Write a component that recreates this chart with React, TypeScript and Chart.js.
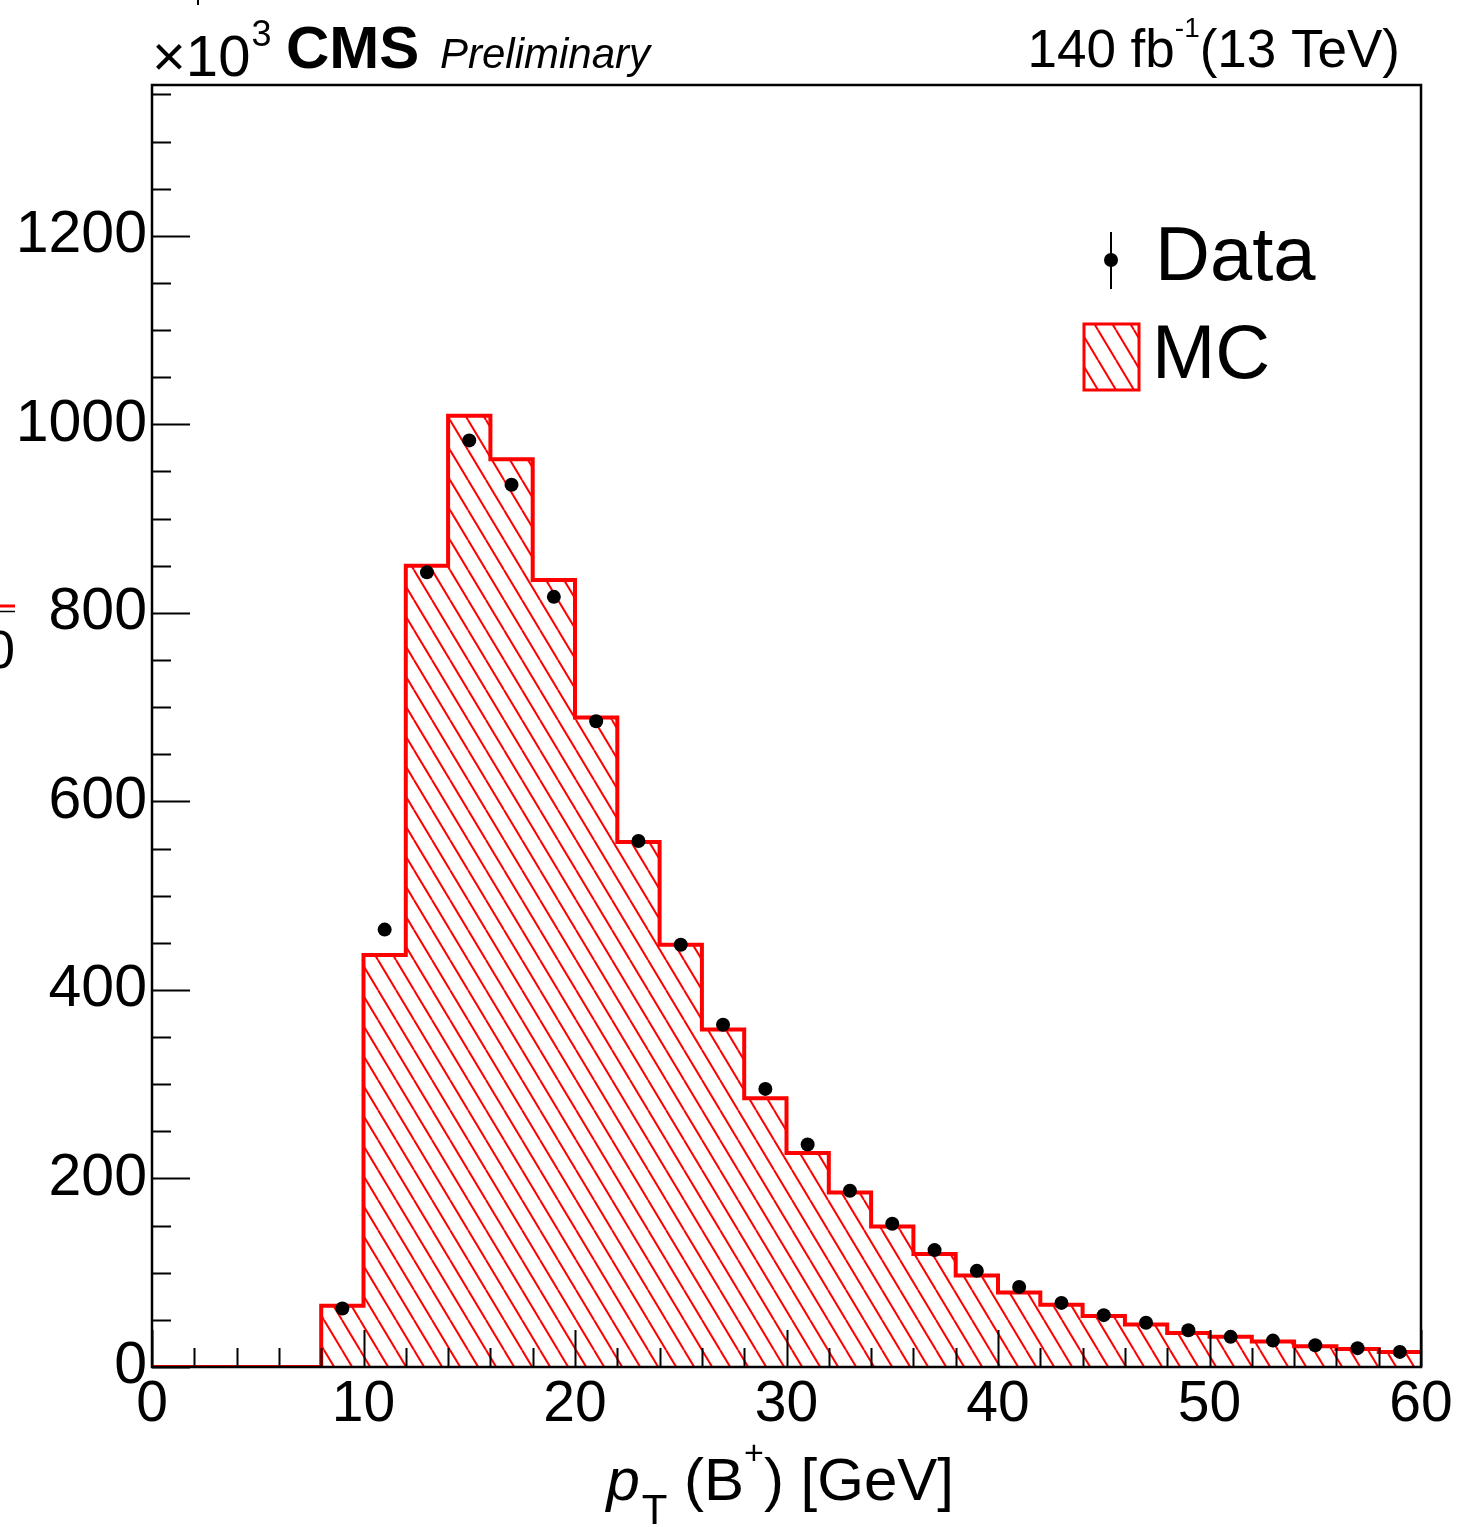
import React, { useEffect, useRef } from "react";
import { Chart, registerables } from "chart.js";

Chart.register(...registerables);

// ---- data (counts in units of 10^3) ----
const binEdges = [0, 2, 4, 6, 8, 10, 12, 14, 16, 18, 20, 22, 24, 26, 28, 30, 32, 34, 36, 38, 40, 42, 44, 46, 48, 50, 52, 54, 56, 58, 60];
const mcCounts = [0, 0, 0, 0, 65, 437, 850, 1009, 963, 835, 689, 557, 448, 358, 285, 227, 185, 149, 120, 97, 79, 66, 54, 45, 36, 32, 27, 22, 19, 16];
const dataCounts: (number | null)[] = [null, null, null, null, 62, 464, 843, 983, 936, 817, 685, 558, 448, 363, 295, 236, 187, 152, 124, 102, 85, 68, 55, 47, 39, 32, 28, 23, 20, 16];
const xTicks = [0, 10, 20, 30, 40, 50, 60];
const yTicks = [0, 200, 400, 600, 800, 1000, 1200];
const xMinorStep = 2;
const yMinorStep = 50;
const xRange = [0, 60];
const yRange = [0, 1360];

const FONT = '"Liberation Sans", Arial, Helvetica, sans-serif';
const RED = "#ff0000";

function makeHatch(): CanvasPattern | string {
  const w = 18;
  const h = 30;
  const c = document.createElement("canvas");
  c.width = w;
  c.height = h;
  const g = c.getContext("2d");
  if (!g) return "rgba(0,0,0,0)";
  g.strokeStyle = RED;
  g.lineWidth = 2;
  g.lineCap = "butt";
  for (const off of [-w, 0, w]) {
    g.beginPath();
    g.moveTo(off, 0);
    g.lineTo(off + w, h);
    g.stroke();
  }
  const p = g.createPattern(c, "repeat");
  return p || RED;
}

export default function App() {
  const ref = useRef<HTMLCanvasElement | null>(null);

  useEffect(() => {
    const canvas = ref.current;
    if (!canvas) return;
    const hatch = makeHatch();

    const histPoints = binEdges.map((e, i) => ({
      x: e,
      y: i < mcCounts.length ? mcCounts[i] : mcCounts[mcCounts.length - 1],
    }));
    const dataPoints = dataCounts
      .map((v, i) => (v === null ? null : { x: (binEdges[i] + binEdges[i + 1]) / 2, y: v }))
      .filter((p) => p !== null) as { x: number; y: number }[];

    const decorPlugin = {
      id: "decor",
      afterDatasetsDraw(chart: any) {
        const ctx: CanvasRenderingContext2D = chart.ctx;
        const xs = chart.scales.x;
        const ys = chart.scales.y;
        const a = chart.chartArea;
        ctx.save();
        ctx.strokeStyle = "#000";
        ctx.lineWidth = 2;
        // x ticks (inside)
        for (let v = xRange[0]; v <= xRange[1] + 1e-9; v += xMinorStep) {
          const px = Math.round(xs.getPixelForValue(v)) + 0.5;
          const major = xTicks.includes(v);
          const len = major ? 37 : 19;
          ctx.beginPath();
          ctx.moveTo(px, a.bottom);
          ctx.lineTo(px, a.bottom - len);
          ctx.stroke();
        }
        // y ticks (inside)
        for (let v = yRange[0]; v <= yRange[1] + 1e-9; v += yMinorStep) {
          const py = Math.round(ys.getPixelForValue(v)) + 0.5;
          const major = yTicks.includes(v);
          const len = major ? 38 : 19;
          ctx.beginPath();
          ctx.moveTo(a.left, py);
          ctx.lineTo(a.left + len, py);
          ctx.stroke();
        }
        // frame
        ctx.lineWidth = 2.5;
        ctx.strokeRect(a.left, a.top, a.right - a.left, a.bottom - a.top);
        ctx.restore();
      },
      afterDraw(chart: any) {
        const ctx: CanvasRenderingContext2D = chart.ctx;
        ctx.save();
        ctx.fillStyle = "#000";
        ctx.textBaseline = "alphabetic";
        ctx.textAlign = "left";

        // ×10^3
        ctx.font = `58px ${FONT}`;
        ctx.fillText("\u00d710", 152, 76);
        let w = ctx.measureText("\u00d710").width;
        ctx.font = `36px ${FONT}`;
        ctx.fillText("3", 152 + w + 1, 46);

        // CMS Preliminary
        ctx.font = `bold 60px ${FONT}`;
        ctx.fillText("CMS", 286, 68);
        ctx.font = `italic 42px ${FONT}`;
        ctx.fillText("Preliminary", 440, 68);

        // lumi
        ctx.textAlign = "right";
        ctx.font = `53px ${FONT}`;
        const tail = "(13 TeV)";
        const tw = ctx.measureText(tail).width;
        let xr = 1400;
        ctx.fillText(tail, xr, 67);
        xr -= tw;
        ctx.font = `28px ${FONT}`;
        const sup = "-1";
        const sw = ctx.measureText(sup).width;
        ctx.fillText(sup, xr, 37);
        xr -= sw;
        ctx.font = `53px ${FONT}`;
        ctx.fillText("140 fb", xr, 67);

        // x axis title: p_T (B^+) [GeV]
        ctx.textAlign = "left";
        const big = 60;
        const parts: { t: string; f: string; dy: number; gap?: number }[] = [
          { t: "p", f: `italic ${big}px ${FONT}`, dy: 0 },
          { t: "T", f: `42px ${FONT}`, dy: 24, gap: 2 },
          { t: " (B", f: `${big}px ${FONT}`, dy: 0 },
          { t: "+", f: `34px ${FONT}`, dy: -36 },
          { t: ") [GeV]", f: `${big}px ${FONT}`, dy: 0 },
        ];
        let total = 0;
        for (const p of parts) {
          ctx.font = p.f;
          total += ctx.measureText(p.t).width + (p.gap || 0);
        }
        let x = 954 - total;
        const base = 1500;
        for (const p of parts) {
          ctx.font = p.f;
          x += p.gap || 0;
          ctx.fillText(p.t, x, base + p.dy);
          x += ctx.measureText(p.t).width;
        }

        // legend
        ctx.font = `76px ${FONT}`;
        ctx.fillText("Data", 1155, 280);
        ctx.fillText("MC", 1152, 378);
        ctx.strokeStyle = "#000";
        ctx.lineWidth = 2;
        ctx.beginPath();
        ctx.moveTo(1111, 232);
        ctx.lineTo(1111, 289);
        ctx.stroke();
        ctx.beginPath();
        ctx.arc(1111, 260, 7, 0, Math.PI * 2);
        ctx.fill();
        ctx.fillStyle = hatch as any;
        ctx.fillRect(1084, 324, 55, 66);
        ctx.strokeStyle = RED;
        ctx.lineWidth = 3;
        ctx.strokeRect(1084, 324, 55, 66);

        // clipped fragments at the edges
        ctx.strokeStyle = RED;
        ctx.lineWidth = 3;
        ctx.beginPath();
        ctx.moveTo(0, 606);
        ctx.lineTo(15, 606);
        ctx.stroke();
        ctx.strokeStyle = "#000";
        ctx.lineWidth = 1.5;
        ctx.beginPath();
        ctx.moveTo(0, 611.5);
        ctx.lineTo(15, 611.5);
        ctx.stroke();
        ctx.fillStyle = "#000";
        ctx.textAlign = "right";
        ctx.font = `54px ${FONT}`;
        ctx.fillText("0", 15, 668);
        ctx.lineWidth = 2;
        ctx.beginPath();
        ctx.moveTo(198, 0);
        ctx.lineTo(198, 5);
        ctx.stroke();

        ctx.restore();
      },
    };

    const chart = new Chart(canvas, {
      type: "line",
      data: {
        datasets: [
          {
            type: "scatter",
            label: "Data",
            data: dataPoints,
            pointRadius: 7,
            pointBackgroundColor: "#000",
            pointBorderWidth: 0,
            showLine: false,
            order: 0,
          } as any,
          {
            type: "line",
            label: "MC",
            data: histPoints,
            stepped: "before",
            borderColor: RED,
            borderWidth: 4,
            backgroundColor: hatch as any,
            fill: "origin",
            pointRadius: 0,
            order: 1,
          } as any,
        ],
      },
      options: {
        responsive: false,
        animation: false,
        devicePixelRatio: 1,
        layout: { padding: { left: 0, top: 85, right: 38, bottom: 0 } },
        plugins: { legend: { display: false }, tooltip: { enabled: false } },
        scales: {
          x: {
            type: "linear",
            min: xRange[0],
            max: xRange[1],
            border: { display: false },
            grid: { display: false, drawTicks: false, tickLength: 0 },
            afterBuildTicks: (s: any) => {
              s.ticks = xTicks.map((v) => ({ value: v }));
            },
            ticks: {
              autoSkip: false,
              maxRotation: 0,
              padding: 4,
              color: "#000",
              font: { family: FONT, size: 57 },
              callback: (v: any) => String(v),
            },
            afterFit: (s: any) => {
              s.height = 160;
            },
          },
          y: {
            type: "linear",
            min: yRange[0],
            max: yRange[1],
            border: { display: false },
            grid: { display: false, drawTicks: false, tickLength: 0 },
            afterBuildTicks: (s: any) => {
              s.ticks = yTicks.map((v) => ({ value: v }));
            },
            ticks: {
              autoSkip: false,
              padding: 5,
              color: "#000",
              font: { family: FONT, size: 59 },
              callback: (v: any) => String(v),
            },
            afterFit: (s: any) => {
              s.width = 152;
            },
          },
        },
      } as any,
      plugins: [decorPlugin],
    });

    return () => chart.destroy();
  }, []);

  return (
    <div style={{ position: "absolute", left: 0, top: 0, width: 1459, height: 1527, background: "#fff" }}>
      <canvas ref={ref} width={1459} height={1527} style={{ display: "block", width: 1459, height: 1527 }} />
    </div>
  );
}
